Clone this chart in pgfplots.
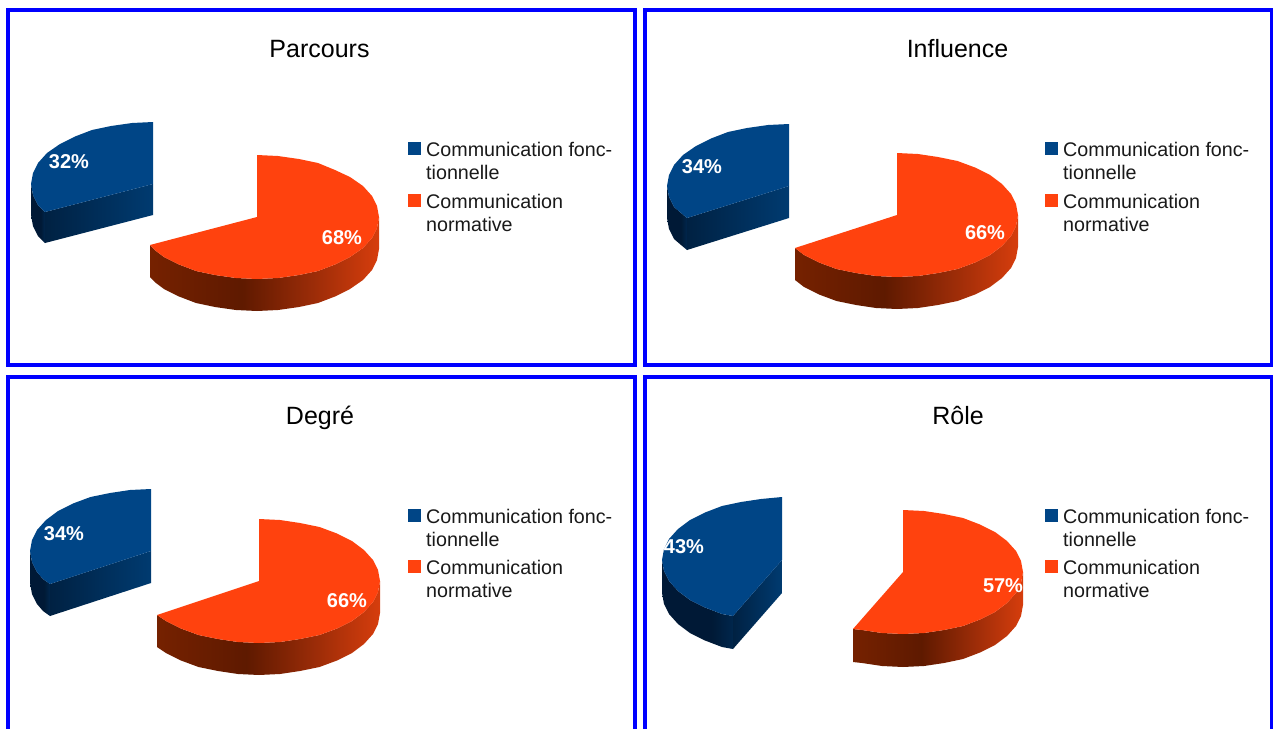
\documentclass[border=0pt]{standalone}
\usepackage{fontspec}
\setmainfont{Liberation Sans}
\usepackage{pgfplots}
\pgfplotsset{compat=1.18}

\definecolor{pieblue}{HTML}{004586}
\definecolor{piered}{HTML}{FF420E}
\definecolor{framecol}{HTML}{0000FF}
\definecolor{rwa}{rgb}{0.46,0.13,0.0}
\definecolor{rwb}{rgb}{0.37,0.10,0.0}
\definecolor{rwc}{rgb}{0.60,0.17,0.03}
\definecolor{rwd}{rgb}{0.84,0.24,0.05}
\definecolor{bwa}{rgb}{0.0,0.10,0.21}
\definecolor{bwb}{rgb}{0.0,0.15,0.30}
\definecolor{bwc}{rgb}{0.0,0.13,0.26}
\definecolor{bwd}{rgb}{0.0,0.23,0.44}

% side walls of the slices, stops between 25bp and 75bp span the bounding box
\pgfdeclarehorizontalshading{redwall}{100bp}{
  color(0bp)=(rwa); color(25bp)=(rwa); color(45bp)=(rwb);
  color(60bp)=(rwc); color(75bp)=(rwd); color(100bp)=(rwd)}
\pgfdeclarehorizontalshading{bluewall}{100bp}{
  color(0bp)=(bwa); color(60bp)=(bwa); color(75bp)=(bwb); color(100bp)=(bwb)}
\pgfdeclarehorizontalshading{bluecut}{100bp}{
  color(0bp)=(bwc); color(25bp)=(bwc); color(75bp)=(bwd); color(100bp)=(bwd)}

\tikzset{
  frame/.style={framecol, line width=4pt, line cap=rect},
  redtop/.style={fill=piered, draw=none},
  bluetop/.style={fill=pieblue, draw=none},
  redside/.style={shade, shading=redwall, draw=none},
  blueside/.style={shade, shading=bluewall, draw=none},
  bluefront/.style={shade, shading=bluecut, draw=none},
  ttl/.style={anchor=base, inner sep=0pt, font=\fontsize{25}{25}\selectfont, text=black},
  lgd/.style={anchor=base west, inner sep=0pt, font=\fontsize{19.7}{23}\selectfont, text=black!90},
  pct/.style={anchor=center, inner sep=0pt, font=\fontsize{20}{20}\selectfont\bfseries, text=white},
}

\begin{document}
\begin{tikzpicture}
\useasboundingbox (0,0) rectangle (1273pt,728pt);
\begin{axis}[width=1273pt, height=728pt, scale only axis, hide axis,
  xmin=0, xmax=1273, ymin=0, ymax=728, y dir=reverse]

% frames
\addplot[frame] coordinates {(8,10)(634.5,10)(634.5,365)(8,365)(8,10)};
\addplot[frame] coordinates {(645,10)(1272,10)(1272,365)(645,365)(645,10)};
\addplot[frame] coordinates {(8,740)(8,377)(634.5,377)(634.5,740)};
\addplot[frame] coordinates {(645,740)(645,377)(1272,377)(1272,740)};

% Parcours
\addplot[blueside] coordinates {(31,184)(33,195)(38,205)(45,212)(45,243)(38,236)(33,226)(31,215)};
\addplot[bluefront] coordinates {(153,184)(153,215)(45,243)(45,212)};
\addplot[bluetop] coordinates {(153,184)(153,122)(132,123)(111,126)(92,130)(75,136.5)(60,144)(47,153)(38,163)(33,173)(31,184)(33,195)(38,205)(45,212)};
\addplot[redside] coordinates {(379,217)(377,228)(372,238)(363,248)(350,257)(335,264.5)(318,271)(299,275)(278,278)(257,279)(236,278)(215,275)(196,271)(179,264.5)(164,257)(156,251)(150,245)(150,277)(156,283)(164,289)(179,296.5)(196,303)(215,307)(236,310)(257,311)(278,310)(299,307)(318,303)(335,296.5)(350,289)(363,280)(372,270)(377,260)(379,249)};
\addplot[redtop] coordinates {(257,217)(257,155)(278,156)(299,159)(318,163)(335,170)(350,177)(363,186)(372,196)(377,206)(379,217)(377,228)(372,238)(363,248)(350,257)(335,264.5)(318,271)(299,275)(278,278)(257,279)(236,278)(215,275)(196,271)(179,264.5)(164,257)(156,251)(150,245)};

% Influence
\addplot[blueside] coordinates {(667,186)(669,197)(674,207)(681,213)(687,218)(687,250)(681,245)(674,239)(669,229)(667,218)};
\addplot[bluefront] coordinates {(789,186)(789,218)(687,250)(687,218)};
\addplot[bluetop] coordinates {(789,186)(789,124)(768,125)(747,128)(728,132)(711,138.5)(696,146)(683,155)(674,165)(669,175)(667,186)(669,197)(674,207)(681,213)(687,218)};
\addplot[redside] coordinates {(1018,215)(1016,226)(1011,236)(1002,246)(990,255)(975,262.5)(957.5,269)(938,273)(918,276)(897,277)(876,276)(856,273)(836.5,269)(819,262.5)(804,255)(795,248)(795,280)(804,287)(819,294.5)(836.5,301)(856,305)(876,308)(897,309)(918,308)(938,305)(957.5,301)(975,294.5)(990,287)(1002,278)(1011,268)(1016,258)(1018,247)};
\addplot[redtop] coordinates {(897,215)(897,153)(918,154)(938,157)(957.5,161)(975,167.5)(990,175)(1002,184)(1011,194)(1016,204)(1018,215)(1016,226)(1011,236)(1002,246)(990,255)(975,262.5)(957.5,269)(938,273)(918,276)(897,277)(876,276)(856,273)(836.5,269)(819,262.5)(804,255)(795,248)};

% Degre
\addplot[blueside] coordinates {(30,551)(32,562)(37,572)(43,579)(50,584)(50,616)(43,611)(37,604)(32,594)(30,583)};
\addplot[bluefront] coordinates {(151,551)(151,583)(50,616)(50,584)};
\addplot[bluetop] coordinates {(151,551)(151,489)(130,490)(110,493)(90.5,497)(73,503.5)(58,511)(46,520)(37,530)(32,540)(30,551)(32,562)(37,572)(43,579)(50,584)};
\addplot[redside] coordinates {(380,581)(378,592)(373,602)(364,612)(352,621)(337,628.5)(319.5,635)(300,639)(280,642)(259,643)(238,642)(218,639)(198.5,635)(181,628.5)(166,621)(157,615)(157,647)(166,653)(181,660.5)(198.5,667)(218,671)(238,674)(259,675)(280,674)(300,671)(319.5,667)(337,660.5)(352,653)(364,644)(373,634)(378,624)(380,613)};
\addplot[redtop] coordinates {(259,581)(259,519)(280,520)(300,523)(319.5,527)(337,533.5)(352,541)(364,550)(373,560)(378,570)(380,581)(378,592)(373,602)(364,612)(352,621)(337,628.5)(319.5,635)(300,639)(280,642)(259,643)(238,642)(218,639)(198.5,635)(181,628.5)(166,621)(157,615)};

% Role
\addplot[blueside] coordinates {(662,560)(664,571)(669,581)(678,591)(690,600)(705,607.5)(722,614)(733,616)(733,649)(722,647)(705,640.5)(690,633)(678,624)(669,614)(664,604)(662,593)};
\addplot[bluefront] coordinates {(782,560)(782,593)(733,649)(733,616)};
\addplot[bluetop] coordinates {(782,560)(782,497)(761,499)(741,502)(722,506)(705,512.5)(690,520)(678,529)(669,539)(664,549)(662,560)(664,571)(669,581)(678,591)(690,600)(705,607.5)(722,614)(733,616)};
\addplot[redside] coordinates {(1023,572)(1021,583)(1016,593)(1007,603)(995,612)(980,619.5)(963,626)(944,630)(924,633)(903,634)(882,633)(862,630)(853,629)(853,662)(862,663)(882,666)(903,667)(924,666)(944,663)(963,659)(980,652.5)(995,645)(1007,636)(1016,626)(1021,616)(1023,605)};
\addplot[redtop] coordinates {(903,572)(903,510)(924,511)(944,514)(963,518)(980,524.5)(995,532)(1007,541)(1016,551)(1021,561)(1023,572)(1021,583)(1016,593)(1007,603)(995,612)(980,619.5)(963,626)(944,630)(924,633)(903,634)(882,633)(862,630)(853,629)};

% legend keys
\addplot[only marks, mark=square*, mark size=5.8pt, mark options={fill=pieblue, draw=pieblue}] coordinates {(414,148)(1051,148)(414,515)(1051,515)};
\addplot[only marks, mark=square*, mark size=5.8pt, mark options={fill=piered, draw=piered}] coordinates {(414,200)(1051,200)(414,566)(1051,566)};

% titles
\node[ttl] at (axis cs:319.5,57) {Parcours};
\node[ttl] at (axis cs:957.5,57) {Influence};
\node[ttl] at (axis cs:320,424) {Degré};
\node[ttl] at (axis cs:958,424) {Rôle};

% legend text
\node[lgd] at (axis cs:426,156) {Communication fonc-};
\node[lgd] at (axis cs:426,179) {tionnelle};
\node[lgd] at (axis cs:426,208) {Communication};
\node[lgd] at (axis cs:426,231) {normative};
\node[lgd] at (axis cs:1063,156) {Communication fonc-};
\node[lgd] at (axis cs:1063,179) {tionnelle};
\node[lgd] at (axis cs:1063,208) {Communication};
\node[lgd] at (axis cs:1063,231) {normative};
\node[lgd] at (axis cs:426,523) {Communication fonc-};
\node[lgd] at (axis cs:426,546) {tionnelle};
\node[lgd] at (axis cs:426,574) {Communication};
\node[lgd] at (axis cs:426,597) {normative};
\node[lgd] at (axis cs:1063,523) {Communication fonc-};
\node[lgd] at (axis cs:1063,546) {tionnelle};
\node[lgd] at (axis cs:1063,574) {Communication};
\node[lgd] at (axis cs:1063,597) {normative};

% percentages
\node[pct] at (axis cs:69,162) {32\%};
\node[pct] at (axis cs:342,238) {68\%};
\node[pct] at (axis cs:702,167) {34\%};
\node[pct] at (axis cs:985,233) {66\%};
\node[pct] at (axis cs:64,534) {34\%};
\node[pct] at (axis cs:347,601) {66\%};
\node[pct] at (axis cs:684,547) {43\%};
\node[pct] at (axis cs:1003,586) {57\%};
\end{axis}
\end{tikzpicture}
\end{document}
